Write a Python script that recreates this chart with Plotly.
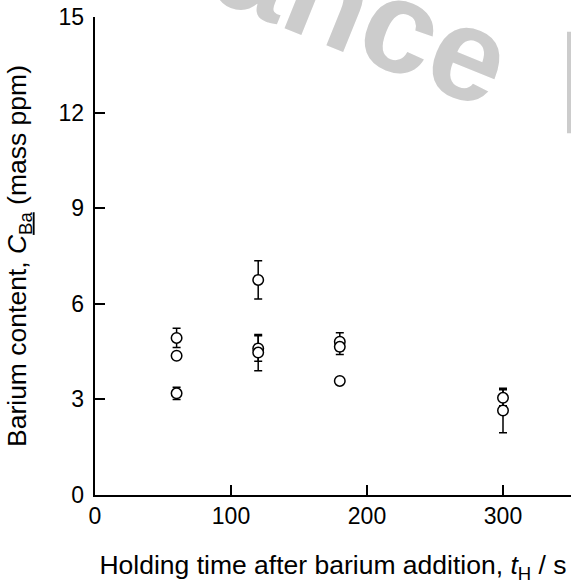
import plotly.graph_objects as go

# Barium content measured at each holding time (mass ppm) with error bars
hold_time = [60, 60, 60, 120, 120, 120, 180, 180, 180, 300, 300]
ba_content = [4.93, 4.37, 3.19, 6.75, 4.60, 4.47, 4.81, 4.65, 3.58, 3.05, 2.65]
ba_error = [0.30, 0.0, 0.19, 0.60, 0.40, 0.57, 0.28, 0.24, 0.0, 0.25, 0.70]

x_ticks = [0, 100, 200, 300]
y_ticks = [0, 3, 6, 9, 12, 15]

FONT = "Liberation Sans, Arial, Helvetica, sans-serif"
LINE_W = 1.5

fig = go.Figure()

fig.add_trace(go.Scatter(
    x=hold_time, y=ba_content,
    mode="markers",
    marker=dict(symbol="circle", size=10.5, color="white",
                line=dict(color="black", width=LINE_W)),
    error_y=dict(type="data", array=ba_error, visible=True,
                 color="black", thickness=LINE_W, width=4),
    cliponaxis=False,
    showlegend=False,
))

axis_common = dict(
    showgrid=False, zeroline=False,
    ticks="inside", ticklen=10, tickwidth=LINE_W, tickcolor="black",
    linecolor="black", linewidth=LINE_W,
)

fig.update_layout(
    width=571, height=584,
    margin=dict(l=95, r=0, t=17, b=89),
    paper_bgcolor="white", plot_bgcolor="white",
    font=dict(family=FONT, color="black"),
    xaxis=dict(
        **axis_common, showline=True, range=[0, 350],
        tickvals=x_ticks, ticktext=[str(v) for v in x_ticks],
        tickfont=dict(size=23),
        title=dict(text="Holding time after barium addition, <i>t</i><sub>H</sub> / s",
                   font=dict(size=26.5), standoff=28),
    ),
    yaxis=dict(
        **axis_common, showline=True, range=[0, 15],
        tickvals=y_ticks, ticktext=[f"{v}\u2009" for v in y_ticks],
        tickfont=dict(size=23),
        title=dict(text="Barium content, <i>C</i><sub><u>Ba</u></sub> (mass ppm)",
                   font=dict(size=26.5), standoff=24),
    ),
    # Mirrored frame: top axis with line, right axis with ticks only
    xaxis2=dict(**axis_common, overlaying="x", side="top", anchor="y",
                showline=True, range=[0, 350], tickvals=x_ticks,
                showticklabels=False),
    yaxis2=dict(**axis_common, overlaying="y", side="right", anchor="x",
                showline=False, range=[0, 15], tickvals=y_ticks,
                showticklabels=False),
)

# Light grey watermark lettering
fig.add_annotation(
    text="<b>ance</b>", xref="paper", yref="paper",
    x=0.566, y=1.012, xanchor="center", yanchor="middle",
    textangle=22, showarrow=False,
    font=dict(family=FONT, size=132, color="#cccccc"),
)
fig.add_shape(type="rect", xref="paper", yref="paper",
              x0=0.9916, x1=1.02, y0=0.757, y1=0.969,
              fillcolor="#cccccc", line=dict(width=0), layer="below")

fig.write_html("out.html")
